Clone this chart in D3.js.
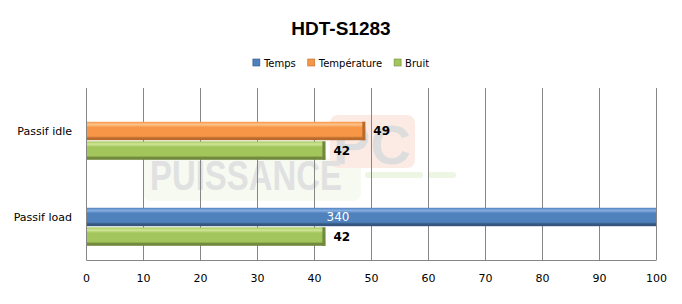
<!DOCTYPE html>
<html>
<head>
<meta charset="utf-8">
<script src="https://cdn.jsdelivr.net/npm/d3@7"></script>
<style>
  body { margin: 0; background: #fff; }
  svg { display: block; font-family: Tahoma, "DejaVu Sans", Verdana, sans-serif; }
</style>
</head>
<body>
<div id="chart"></div>
<script>
const title = 'HDT-S1283';
const categories = ['Passif idle', 'Passif load'];
const seriesNames = ['Temps', 'Température', 'Bruit'];
// null = pas de barre pour cette catégorie
const temps = [null, 340];
const temperature = [49, null];
const bruit = [42, 42];
const xTicks = [0, 10, 20, 30, 40, 50, 60, 70, 80, 90, 100];

const width = 682;
const height = 304;
const marginTop = 88;
const marginRight = 26;
const marginBottom = 44;
const marginLeft = 86;

const colors = {
  'Temps': { base: '#4f81bd', light: '#86aee0', dark: '#35577f' },
  'Température': { base: '#f79646', light: '#fdc38a', dark: '#b86b2c' },
  'Bruit': { base: '#a3c65c', light: '#d0e698', dark: '#71893c' }
};

const values = [temps, temperature, bruit];
const rows = categories.flatMap((cat, i) => {
  const present = seriesNames
    .map((s, k) => ({ cat, serie: s, value: values[k][i] }))
    .filter(d => d.value !== null);
  // Excel laisse le premier emplacement vide
  return present.map((d, j) => ({ ...d, slot: j + 1 }));
});

const x = d3.scaleLinear()
  .domain([0, 100])
  .range([marginLeft, width - marginRight]);

const y = d3.scaleBand()
  .domain(categories)
  .range([marginTop, height - marginBottom])
  .paddingInner(0.33)
  .paddingOuter(0.165);

const ySlot = d3.scaleBand()
  .domain([0, 1, 2])
  .range([0, y.bandwidth()])
  .paddingInner(0.06);

const svg = d3.select('#chart')
  .append('svg')
  .attr('width', width)
  .attr('height', height)
  .attr('viewBox', [0, 0, width, height]);

const defs = svg.append('defs');
Object.entries(colors).forEach(([name, c], i) => {
  const g = defs.append('linearGradient')
    .attr('id', 'grad' + i)
    .attr('x1', 0).attr('y1', 0).attr('x2', 0).attr('y2', 1);
  g.append('stop').attr('offset', '0%').attr('stop-color', c.base);
  g.append('stop').attr('offset', '15%').attr('stop-color', c.light);
  g.append('stop').attr('offset', '30%').attr('stop-color', c.base);
  g.append('stop').attr('offset', '78%').attr('stop-color', c.base);
  g.append('stop').attr('offset', '88%').attr('stop-color', c.dark);
  g.append('stop').attr('offset', '100%').attr('stop-color', c.dark);
});
const gradId = s => 'url(#grad' + seriesNames.indexOf(s) + ')';

// Titre
svg.append('text')
  .attr('x', width / 2)
  .attr('y', 35)
  .attr('text-anchor', 'middle')
  .style('font-family', '"Liberation Sans", Arial, sans-serif')
  .style('font-weight', 'bold')
  .style('font-size', '19px')
  .text(title);

// Légende (positions calculées d'après la largeur des textes)
const legend = svg.append('g');
let lx = 0;
seriesNames.forEach((s, i) => {
  const g = legend.append('g').attr('transform', `translate(${lx},0)`);
  g.append('rect')
    .attr('y', -7)
    .attr('width', 7).attr('height', 7)
    .attr('fill', colors[s].base)
    .attr('stroke', colors[s].dark).attr('stroke-width', 0.6);
  const t = g.append('text')
    .attr('x', 11).attr('y', 0.5)
    .style('font-size', '10px')
    .text(s);
  lx += 11 + t.node().getComputedTextLength() + 12;
});
lx -= 12;
legend.attr('transform', `translate(${(width - lx) / 2 + 0},66)`);

// Filigrane
const wm = svg.append('g').attr('opacity', 0.5);
wm.append('rect')
  .attr('x', 143).attr('y', 158).attr('width', 218).attr('height', 43).attr('rx', 8)
  .attr('fill', '#eef6e4');
wm.append('rect')
  .attr('x', 365).attr('y', 172).attr('width', 58).attr('height', 6).attr('rx', 3)
  .attr('fill', '#dcedc8');
wm.append('rect')
  .attr('x', 428).attr('y', 172).attr('width', 28).attr('height', 6).attr('rx', 3)
  .attr('fill', '#dcedc8');
wm.append('rect')
  .attr('x', 330).attr('y', 115).attr('width', 85).attr('height', 53).attr('rx', 8)
  .attr('fill', '#fbd9cc');
wm.append('text')
  .attr('x', 372).attr('y', 164)
  .attr('text-anchor', 'middle')
  .style('font-family', '"Liberation Sans Narrow", "Liberation Sans", Arial, sans-serif')
  .style('font-weight', 'bold')
  .style('font-size', '56px')
  .attr('fill', '#bdbdbd')
  .text('PC');
wm.append('text')
  .attr('x', 150).attr('y', 190)
  .attr('textLength', 192)
  .attr('lengthAdjust', 'spacingAndGlyphs')
  .style('font-family', '"Liberation Sans", Arial, sans-serif')
  .style('font-weight', 'bold')
  .style('font-size', '42px')
  .attr('fill', '#c4c4c4')
  .text('PUISSANCE');

// Grille verticale
svg.append('g')
  .attr('transform', `translate(0,${height - marginBottom})`)
  .call(d3.axisBottom(x)
    .tickValues(xTicks)
    .tickSize(-(height - marginTop - marginBottom))
    .tickFormat(''))
  .call(g => g.select('.domain').remove())
  .selectAll('line')
  .attr('stroke', '#868686');

// Barres
const barG = svg.append('g');
rows.forEach(d => {
  const top = y(d.cat) + ySlot(d.slot);
  const h = ySlot.bandwidth();
  const end = x(Math.min(d.value, 100));
  barG.append('rect')
    .attr('x', x(0)).attr('y', top)
    .attr('width', end - x(0)).attr('height', h)
    .attr('fill', gradId(d.serie));
  if (d.value <= 100) {
    // bout sombre de la barre
    barG.append('rect')
      .attr('x', end - 3).attr('y', top)
      .attr('width', 3).attr('height', h)
      .attr('fill', colors[d.serie].dark);
    barG.append('text')
      .attr('x', end + 8).attr('y', top + h / 2 + 4)
      .style('font-size', '12px')
      .style('font-weight', 'bold')
      .text(d.value);
  } else {
    barG.append('text')
      .attr('x', (x(0) + end) / 2 - 33).attr('y', top + h / 2 + 4)
      .attr('text-anchor', 'middle')
      .style('font-size', '12px')
      .attr('fill', '#fff')
      .text(d.value);
  }
});

// Axes
svg.append('g')
  .attr('transform', `translate(0,${height - marginBottom})`)
  .call(d3.axisBottom(x).tickValues(xTicks).tickSize(0).tickPadding(14))
  .call(g => g.select('.domain').attr('stroke', '#868686'))
  .selectAll('text')
  .style('font-size', '11px')
  .style('font-family', 'Tahoma, "DejaVu Sans", Verdana, sans-serif');

svg.append('g')
  .attr('transform', `translate(${marginLeft},0)`)
  .call(d3.axisLeft(y).tickSize(0).tickPadding(14))
  .call(g => g.select('.domain').attr('stroke', '#868686'))
  .selectAll('text')
  .style('font-size', '11px')
  .style('font-family', 'Tahoma, "DejaVu Sans", Verdana, sans-serif');
</script>
</body>
</html>
